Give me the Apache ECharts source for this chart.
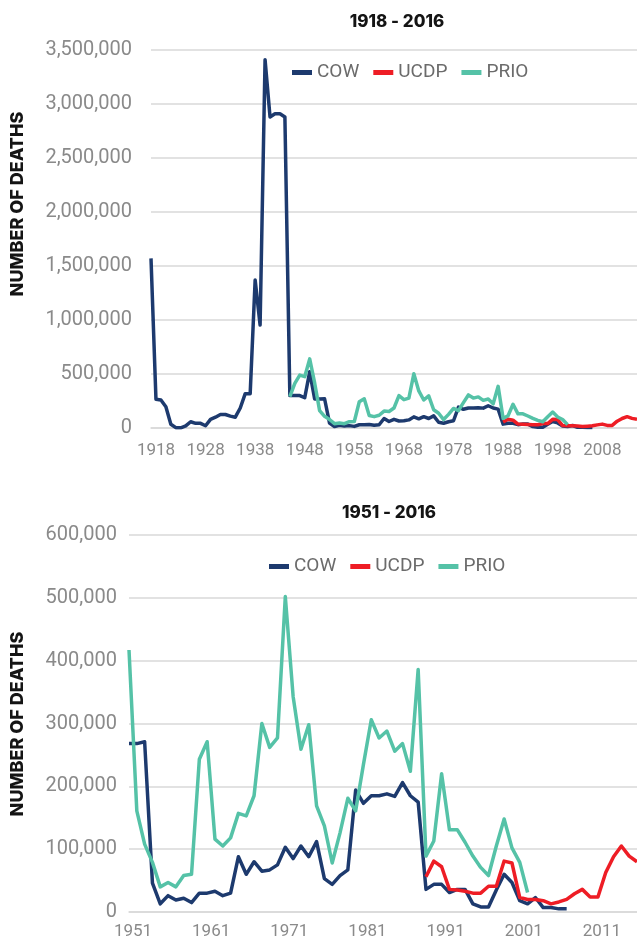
<!DOCTYPE html>
<html>
<head>
<meta charset="utf-8">
<script src="https://cdn.jsdelivr.net/npm/echarts@6/dist/echarts.min.js"></script>
<style>
html,body{margin:0;padding:0;background:#fff;}
#chart{width:637px;height:940px;}
</style>
</head>
<body>
<div id="chart"></div>
<script>
// ---- Data (number of deaths per year) ----
const firstYear = 1918;
const lastYear = 2016;

// COW series, 1918 - 2007
const cowStart = 1918;
const cowValues = [
  1571000, 266000, 259000, 197000, 35000, 3000, 2000, 19000, 58000, 43000,
  43000, 21000, 80000, 100000, 125000, 125000, 110000, 100000, 185000, 318000,
  318000, 1370000, 954000, 3410000, 2880000, 2910000, 2910000, 2880000, 300000, 300000,
  300000, 280000, 520000, 268000, 268000, 271000, 46000, 13000, 26000, 19000,
  22000, 15000, 30000, 30000, 33000, 26000, 30000, 88000, 60000, 80000,
  65000, 67000, 75000, 103000, 85000, 105000, 88000, 112000, 53000, 44000,
  58000, 67000, 194000, 173000, 185000, 185000, 188000, 184000, 206000, 185000,
  175000, 36000, 44000, 44000, 31000, 36000, 36000, 13000, 8000, 8000,
  35000, 60000, 47000, 18000, 13000, 23000, 7000, 7000, 5000, 5000
];

// UCDP series, 1989 - 2016
const ucdpStart = 1989;
const ucdpValues = [
  56000, 81000, 72000, 36000, 35000, 33000, 30000, 30000, 41000, 41000,
  81000, 78000, 23000, 20000, 20000, 18000, 13000, 16000, 20000, 29000,
  36000, 24000, 24000, 63000, 88000, 105000, 89000, 80000
];

// PRIO series, 1946 - 2002
const prioStart = 1946;
const prioValues = [
  290000, 414000, 490000, 475000, 640000, 417000, 161000, 108000, 79000, 40000,
  47000, 40000, 58000, 60000, 243000, 271000, 116000, 105000, 118000, 157000,
  153000, 185000, 300000, 262000, 277000, 502000, 343000, 259000, 298000, 169000,
  137000, 78000, 126000, 181000, 161000, 235000, 306000, 277000, 288000, 256000,
  268000, 224000, 386000, 89000, 113000, 220000, 131000, 131000, 111000, 89000,
  71000, 58000, 105000, 148000, 102000, 79000, 31000
];

const seriesNames = ['COW', 'UCDP', 'PRIO'];
const colors = { COW: '#1d3a6e', UCDP: '#ee1d25', PRIO: '#55c2a7' };

const titles = ['1918 - 2016', '1951 - 2016'];
const topTicks = [0, 500000, 1000000, 1500000, 2000000, 2500000, 3000000, 3500000];
const bottomTicks = [0, 100000, 200000, 300000, 400000, 500000, 600000];
const zoomStartYear = 1951;

// ---- Build aligned arrays ----
const years = [];
for (let y = firstYear; y <= lastYear; y++) years.push(String(y));
function align(start, vals) {
  return years.map(y => {
    const i = Number(y) - start;
    return (i >= 0 && i < vals.length) ? vals[i] : null;
  });
}
const full = {
  COW: align(cowStart, cowValues),
  UCDP: align(ucdpStart, ucdpValues),
  PRIO: align(prioStart, prioValues)
};
const cut = zoomStartYear - firstYear;
const yearsB = years.slice(cut);

const fmt = v => Number(v).toLocaleString('en-US');
const labelColor = '#8a8a8a';
const gridColor = '#d9d9d9';

function makeY(idx, ticks, margin) {
  return {
    type: 'value', gridIndex: idx, min: ticks[0], max: ticks[ticks.length - 1],
    interval: ticks[1] - ticks[0],
    axisLine: { show: false }, axisTick: { show: false },
    splitLine: { lineStyle: { color: gridColor, width: 1.5 } },
    axisLabel: { formatter: fmt, color: labelColor, fontSize: 20, fontFamily: 'Roboto', margin: margin }
  };
}
function makeX(idx, cats, margin, pad) {
  return {
    type: 'category', gridIndex: idx, data: cats, boundaryGap: false,
    axisLine: { lineStyle: { color: gridColor, width: 1.5 } },
    axisTick: { show: false },
    axisLabel: { interval: 9, color: labelColor, fontSize: 17, fontFamily: 'Roboto', margin: margin, padding: [0, 0, 0, pad] }
  };
}

const series = [];
[0, 1].forEach(g => {
  seriesNames.forEach(n => {
    series.push({
      name: n, type: 'line', xAxisIndex: g, yAxisIndex: g,
      data: g === 0 ? full[n] : full[n].slice(cut),
      showSymbol: false, symbol: 'none', connectNulls: false,
      lineStyle: { color: colors[n], width: 3.5, join: 'round' },
      itemStyle: { color: colors[n] },
      emphasis: { disabled: true }
    });
  });
});

const legendCommon = {
  data: seriesNames, icon: 'rect', itemWidth: 20, itemHeight: 5, itemGap: 14,
  textStyle: { color: '#6b6b6b', fontSize: 19, fontFamily: 'Roboto' },
  selectedMode: false
};

const chart = echarts.init(document.getElementById('chart'), null, { renderer: 'canvas' });
chart.setOption({
  animation: false,
  backgroundColor: '#ffffff',
  color: seriesNames.map(n => colors[n]),
  grid: [
    { left: 151, top: 50, width: 492, height: 378 },
    { left: 129, top: 535, width: 515.4, height: 378 }
  ],
  xAxis: [makeX(0, years, 14, 10), makeX(1, yearsB, 11, 8)],
  yAxis: [makeY(0, topTicks, 19), makeY(1, bottomTicks, 12)],
  legend: [
    Object.assign({ left: 287, top: 58 }, legendCommon),
    Object.assign({ left: 264, top: 552 }, legendCommon)
  ],
  graphic: [
    { type: 'text', x: 397, y: 22, style: { text: titles[0], align: 'center', verticalAlign: 'middle', font: '800 17px Inter', fill: '#141414' } },
    { type: 'text', x: 389, y: 513, style: { text: titles[1], align: 'center', verticalAlign: 'middle', font: '800 17px Inter', fill: '#141414' } },
    { type: 'text', x: 18, y: 204, rotation: Math.PI / 2, style: { text: 'NUMBER OF DEATHS', align: 'center', verticalAlign: 'middle', font: '800 18px Inter', fill: '#141414' } },
    { type: 'text', x: 18, y: 724, rotation: Math.PI / 2, style: { text: 'NUMBER OF DEATHS', align: 'center', verticalAlign: 'middle', font: '800 18px Inter', fill: '#141414' } }
  ],
  series: series
});
</script>
</body>
</html>
